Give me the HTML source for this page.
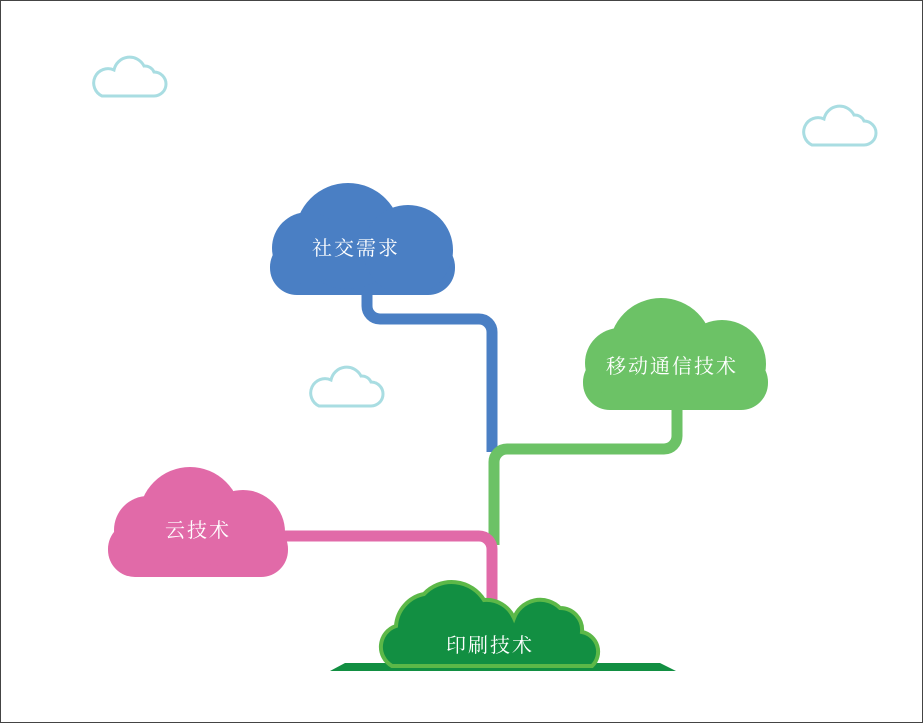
<!DOCTYPE html>
<html><head><meta charset="utf-8"><style>
html,body{margin:0;padding:0;background:#fff}
body{width:923px;height:723px;overflow:hidden}
svg text{font-family:"Liberation Serif","Noto Serif CJK SC",serif;font-size:20px;fill:#fff;letter-spacing:2px}
</style></head><body>
<svg width="923" height="723" viewBox="0 0 923 723" xmlns="http://www.w3.org/2000/svg">
<rect x="0.5" y="0.5" width="922" height="722" fill="#fff" stroke="#444" stroke-width="1"/>
<defs>
<g id="oc">
<path d="M8,42 h52 a12,12 0 0 0 0,-24 a10,10 0 0 0 -10,-6 a16,16 0 0 0 -30,4 a11,11 0 0 0 -12,26 z" fill="none" stroke="#a9dde2" stroke-width="3"/>
</g>
</defs>
<use href="#oc" x="94" y="54"/>
<use href="#oc" x="804" y="103"/>
<use href="#oc" x="311" y="364"/>
<!-- connectors -->
<g fill="none" stroke-width="11" stroke-linecap="butt">
<path d="M367,285 V306 a13,13 0 0 0 13,13 H479 a13,13 0 0 1 13,13 V452" stroke="#4a7fc4"/>
<path d="M677,400 V436 a13,13 0 0 1 -13,13 H507 a13,13 0 0 0 -13,13 V545" stroke="#6cc266"/>
<path d="M280,536 H479 a13,13 0 0 1 13,13 V605" stroke="#e16aa8"/>
</g>
<!-- blue cloud -->
<g fill="#4a7fc4">
<rect x="270" y="240" width="185" height="55" rx="27"/>
<circle cx="348" cy="236" r="53"/>
<circle cx="408" cy="250" r="45"/>
<circle cx="308" cy="248" r="36"/>
</g>
<text x="312" y="255">社交需求</text>
<!-- green cloud -->
<g fill="#6cc266">
<rect x="583" y="355" width="185" height="55" rx="27"/>
<circle cx="661" cy="350" r="52"/>
<circle cx="722" cy="364" r="44"/>
<circle cx="620" cy="363" r="35"/>
</g>
<text x="606" y="373">移动通信技术</text>
<!-- pink cloud -->
<g fill="#e16aa8">
<rect x="108" y="522" width="180" height="55" rx="27"/>
<circle cx="190" cy="518" r="51"/>
<circle cx="243" cy="532" r="42"/>
<circle cx="148" cy="530" r="34"/>
</g>
<text x="165" y="537">云技术</text>
<!-- ground -->
<polygon points="330,671 676,671 660,663 345,663" fill="#128f42"/>
<!-- bush -->
<g fill="#128f42" stroke="#5cb848" stroke-width="4">
<path d="M392,666 a22,22 0 0 1 4,-40 a35,35 0 0 1 28,-32 a38,38 0 0 1 60,6 a30,30 0 0 1 30,18 a28,28 0 0 1 46,-10 a22,22 0 0 1 22,24 a20,20 0 0 1 10,34 z"/>
</g>
<text x="446" y="652">印刷技术</text>
</svg>
</body></html>
